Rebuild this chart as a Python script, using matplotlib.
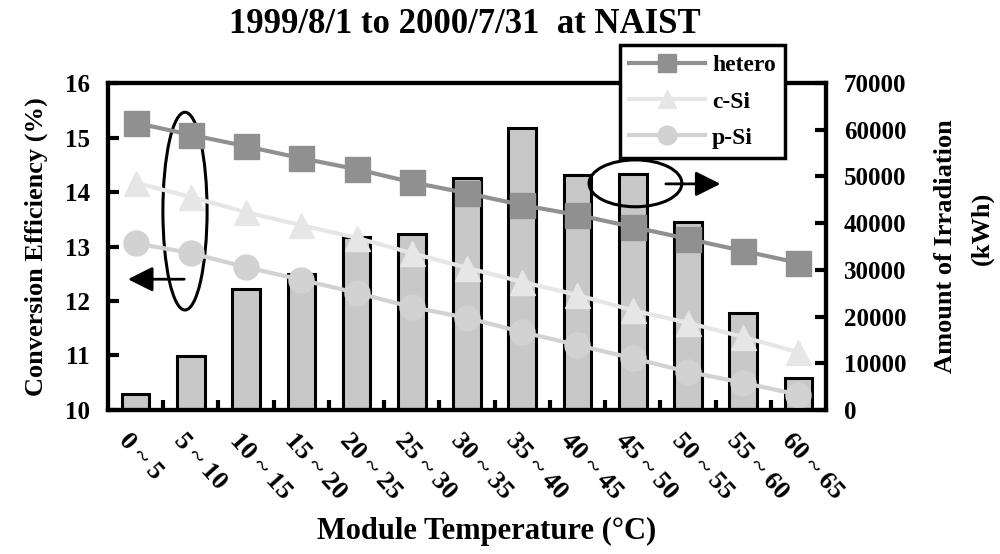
import matplotlib
matplotlib.use("Agg")
import matplotlib.pyplot as plt
from matplotlib.patches import Ellipse
from matplotlib.transforms import ScaledTranslation

plt.rcParams["font.family"] = ["Liberation Serif", "DejaVu Serif"]
plt.rcParams["font.weight"] = "bold"
plt.rcParams["axes.labelweight"] = "bold"

# temperature bins (deg C)
bins = ["0 ~ 5", "5 ~ 10", "10 ~ 15", "15 ~ 20", "20 ~ 25", "25 ~ 30", "30 ~ 35",
        "35 ~ 40", "40 ~ 45", "45 ~ 50", "50 ~ 55", "55 ~ 60", "60 ~ 65"]

# conversion efficiency (%)
hetero = [15.27, 15.05, 14.84, 14.62, 14.42, 14.18, 13.98, 13.76, 13.58, 13.36, 13.14, 12.92, 12.70]
c_si = [14.17, 13.91, 13.63, 13.39, 13.16, 12.88, 12.61, 12.35, 12.11, 11.83, 11.60, 11.34, 11.06]
p_si = [13.06, 12.88, 12.62, 12.39, 12.15, 11.89, 11.69, 11.43, 11.19, 10.95, 10.70, 10.50, 10.28]

# amount of irradiation (kWh)
irradiation = [3500, 11500, 25900, 29100, 37000, 37700, 49700, 60400, 50300, 50500, 40200, 20800, 6850]

x = list(range(len(bins)))

fig = plt.figure(figsize=(10, 5.54), dpi=100)
ax = fig.add_axes([0.108, 0.26, 0.718, 0.590])
ax2 = ax.twinx()

# bars on the right axis, lines drawn above them
ax2.bar(x, irradiation, width=0.5, color="#c8c8c8", edgecolor="black", linewidth=2.2)
ax2.set_ylim(0, 70000)
ax2.set_yticks(range(0, 70001, 10000))

ax.set_zorder(ax2.get_zorder() + 1)
ax.patch.set_visible(False)

ax.plot(x, hetero, color="#909090", marker="s", markersize=18, linewidth=3, label="hetero")
ax.plot(x, c_si, color="#e6e6e6", marker="^", markersize=18, linewidth=3, label="c-Si")
ax.plot(x, p_si, color="#d2d2d2", marker="o", markersize=18, linewidth=3, label="p-Si",
        clip_on=False)

ax.set_xlim(-0.5, len(bins) - 0.5)
ax.set_ylim(10, 16)
ax.set_yticks(range(10, 17))

# ticks
ax.set_xticks(x)
ax.set_xticklabels(bins, rotation=-48, ha="left", va="top", rotation_mode="anchor")
ax.set_xticks([i + 0.5 for i in x[:-1]], minor=True)
ax.tick_params(axis="x", which="major", length=0, pad=14, labelsize=19)
ax.tick_params(axis="x", which="minor", direction="in", length=7, width=3)
ax.tick_params(axis="y", direction="in", length=8, width=3, labelsize=18, pad=13)
ax2.tick_params(axis="y", direction="in", length=8, width=3, labelsize=18, pad=13)
for lab in ax.get_xticklabels():
    lab.set_transform(lab.get_transform() + ScaledTranslation(-0.04, 0, fig.dpi_scale_trans))
for lab in ax2.get_yticklabels():
    lab.set_ha("left")

for a in (ax, ax2):
    for s in a.spines.values():
        s.set_linewidth(3)

# labels and title
ax.set_ylabel("Conversion Efficiency (%)", fontsize=19, labelpad=12)
fig.text(0.945, 0.555, "Amount of Irradiation", rotation=90, fontsize=19,
         ha="center", va="center")
fig.text(0.982, 0.588, "(kWh)", rotation=90, fontsize=19, ha="center", va="center")
fig.text(0.487, 0.040, "Module Temperature (\u00b0C)", fontsize=22, ha="center", va="center")
fig.text(0.465, 0.955, "1999/8/1 to 2000/7/31  at NAIST", fontsize=25, ha="center", va="center")

# ellipses and arrows pointing to the axes
ax.add_patch(Ellipse((0.894, 13.65), 0.80, 3.63, fill=False, edgecolor="black", linewidth=2.2))
ax.annotate("", xy=(-0.19, 12.40), xytext=(0.93, 12.40),
            arrowprops=dict(arrowstyle="-|>", color="black", lw=2, mutation_scale=38))
ax.add_patch(Ellipse((9.05, 14.16), 1.68, 0.86, fill=False, edgecolor="black", linewidth=2.2))
ax.annotate("", xy=(10.64, 14.15), xytext=(9.55, 14.15),
            arrowprops=dict(arrowstyle="-|>", color="black", lw=2, mutation_scale=38))

leg = ax.legend(loc="upper left", bbox_to_anchor=(0.620, 0.918), bbox_transform=fig.transFigure,
                fontsize=17, frameon=True, fancybox=False, edgecolor="black", framealpha=1,
                handlelength=3.2, handletextpad=0.3, markerscale=0.75, borderpad=0.4,
                labelspacing=0.62, borderaxespad=0)
leg.get_frame().set_linewidth(2.5)
leg.set_zorder(10)

fig.savefig("out.png", dpi=100)
